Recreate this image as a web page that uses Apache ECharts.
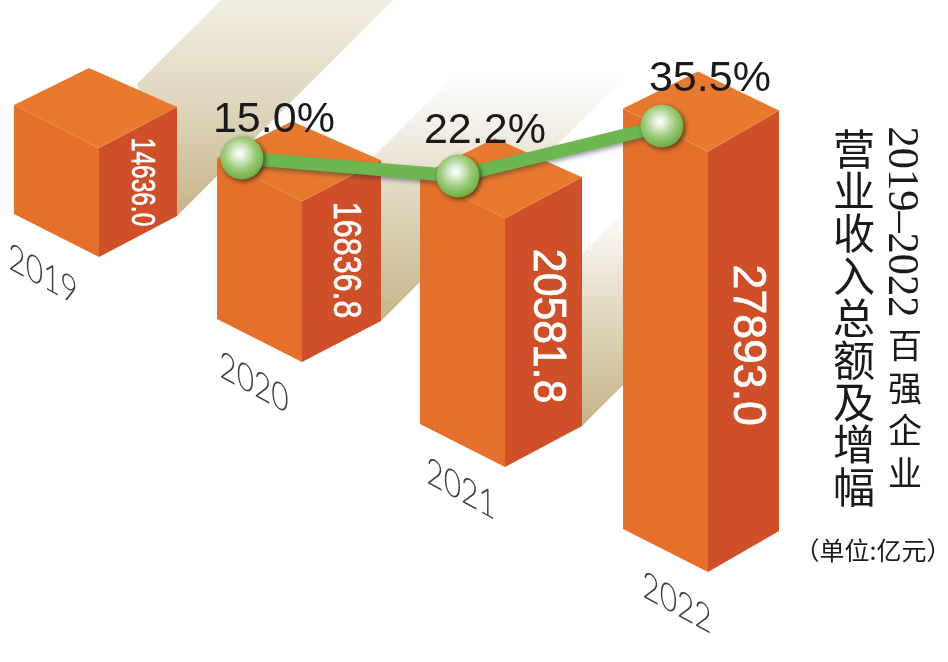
<!DOCTYPE html>
<html>
<head>
<meta charset="utf-8">
<style>html,body{margin:0;padding:0;background:#fff}#c{width:948px;height:662px}</style>
<script src="https://cdn.jsdelivr.net/npm/echarts@6/dist/echarts.min.js"></script>
</head>
<body>
<div id="c"></div>
<script>
// ---- data ----
var categories = ['2019', '2020', '2021', '2022'];
var revenue = [14636.0, 16836.8, 20581.8, 27893.0];
var growthLabels = ['15.0%', '22.2%', '35.5%'];
var linePositionX = [0.704, 1.768, 2.773];
var lineLevel = [27617, 26851, 28979];
var titleMain = '营业收入总额及增幅';
var titleYears = '2019–2022';
var titleSub = '百强企业';
var unitText = '（单位:亿元）';

// ---- drawing style ----
var AXIS_MIN = 10000, AXIS_MAX = 34000;
var FLOOR_RISE = 105;
var LEFT_RUN = 85, LEFT_SLOPE = 43, RIGHT_SLOPE = 41, APEX_DX = -10, APEX_DY = -80;
var rightRun = [78, 79, 77, 71];
var valueFont = [34, 38, 46, 46];
var valueStretch = [0.72, 0.85, 0.93, 0.97];
var valueShift = [0, -1, 4, 4];
var yearOffset = [[-56, 18], [-48, 21], [-44, 22], [-31, 31]];
var shadowLen = [230, 245, 48, 0];
var shadowFade = [230, 245, 222, 0];
var labelOffset = [[32, -38], [27, -45], [48, -47]];

function barGeom(api) {
  var i = api.value(0);
  var drop = (categories.length - 1 - i) * FLOOR_RISE;
  var top = api.coord([i, api.value(1)]);
  var base = api.coord([i, AXIS_MIN]);
  return { i: i, x: top[0], top: top[1] - drop, bottom: base[1] - drop, r: rightRun[i] };
}

function renderShadow(params, api) {
  var g = barGeom(api), L = shadowLen[g.i];
  if (!L) return { type: 'group', children: [] };
  var bx = g.x + g.r, by = g.bottom - RIGHT_SLOPE;
  var band = 172, tuck = 40;
  var pts = [[bx, by], [bx + L, by - L], [bx + L, by - L - band], [bx - tuck, by - band + tuck]];
  return {
    type: 'polygon',
    shape: { points: pts },
    style: {
      fill: new echarts.graphic.LinearGradient(0, by, 0, by - shadowFade[g.i], [
        { offset: 0, color: '#c6b387' },
        { offset: 0.45, color: '#ddd4ba' },
        { offset: 1, color: g.i === 0 ? '#f4f1e7' : '#ffffff' }
      ], true)
    }
  };
}

function renderBar(params, api) {
  var g = barGeom(api), x = g.x, t = g.top, b = g.bottom, r = g.r;
  var yl = LEFT_SLOPE, yr = RIGHT_SLOPE;
  var faceCenterX = x + r * 0.54;
  var faceCenterY = (t + b - yr) / 2 + valueShift[g.i];
  return {
    type: 'group',
    children: [
      { type: 'polygon', shape: { points: [[x - LEFT_RUN, t - yl], [x, t], [x, b], [x - LEFT_RUN, b - yl]] },
        style: { fill: '#e5702b' } },
      { type: 'polygon', shape: { points: [[x, t], [x + r, t - yr], [x + r, b - yr], [x, b]] },
        style: { fill: '#cf4f29' } },
      { type: 'polygon', shape: { points: [[x - LEFT_RUN, t - yl], [x + APEX_DX, t + APEX_DY], [x + r, t - yr], [x, t]] },
        style: { fill: '#e87a2e' } },
      { type: 'text', x: faceCenterX, y: faceCenterY, rotation: -Math.PI / 2, scaleX: valueStretch[g.i],
        style: { text: revenue[g.i].toFixed(1), fill: '#fff', stroke: '#fff', lineWidth: 0.7,
          align: 'center', verticalAlign: 'middle',
          font: valueFont[g.i] + 'px "Liberation Sans", Arial, sans-serif' } },
      { type: 'text', x: x + yearOffset[g.i][0], y: b + yearOffset[g.i][1], skewY: -0.5, scaleX: 0.88, scaleY: 1.12,
        style: { text: categories[g.i], fill: '#3c4042', align: 'center', verticalAlign: 'middle',
          font: '300 34px Lato, sans-serif' } }
    ]
  };
}

var barData = categories.map(function (c, i) { return [i, revenue[i]]; });
var lineData = growthLabels.map(function (t, i) {
  return {
    value: [linePositionX[i], lineLevel[i]],
    label: { offset: labelOffset[i], formatter: t }
  };
});

var graphics = [];
titleMain.split('').forEach(function (ch, i) {
  graphics.push({ type: 'text', x: 854, y: 149 + i * 42.2,
    style: { text: ch, fill: '#1a1a1a', align: 'center', verticalAlign: 'middle',
      font: '42px "Noto Sans CJK SC", sans-serif' } });
});
graphics.push({ type: 'text', x: 901, y: 222, rotation: -Math.PI / 2, scaleX: 0.965,
  style: { text: titleYears, fill: '#1a1a1a', align: 'center', verticalAlign: 'middle',
    font: '44px "Liberation Serif", serif' } });
titleSub.split('').forEach(function (ch, i) {
  graphics.push({ type: 'text', x: 905, y: 345 + i * 42.7,
    style: { text: ch, fill: '#1a1a1a', align: 'center', verticalAlign: 'middle',
      font: '34px "Noto Sans CJK SC", sans-serif' } });
});
graphics.push({ type: 'text', x: 873, y: 550,
  style: { text: unitText, fill: '#1a1a1a', align: 'center', verticalAlign: 'middle',
    font: '25px "Noto Sans CJK SC", sans-serif' } });

var chart = echarts.init(document.getElementById('c'), null, { renderer: 'canvas' });
chart.setOption({
  animation: false,
  backgroundColor: '#ffffff',
  grid: { left: 99, top: 8, width: 609, height: 564 },
  xAxis: [
    { type: 'category', data: categories, boundaryGap: false, show: false },
    { type: 'value', min: 0, max: 3, show: false }
  ],
  yAxis: { type: 'value', min: AXIS_MIN, max: AXIS_MAX, show: false },
  graphic: { elements: graphics },
  series: [
    { type: 'custom', name: 'shadow', renderItem: renderShadow, data: barData, z: 1, silent: true,
      clip: false, encode: { x: 0, y: 1 } },
    { type: 'custom', name: '营业收入', renderItem: renderBar, data: barData, z: 2, silent: true,
      clip: false, encode: { x: 0, y: 1 } },
    { type: 'line', name: '增幅', xAxisIndex: 1, yAxisIndex: 0, data: lineData, z: 5, silent: true,
      clip: false,
      symbol: 'circle', symbolSize: 43, showSymbol: true, showAllSymbol: true,
      lineStyle: { color: '#6cb74f', width: 13, shadowColor: 'rgba(40,50,60,0.45)', shadowBlur: 4, shadowOffsetY: 3 },
      itemStyle: {
        color: new echarts.graphic.RadialGradient(0.45, 0.4, 0.6, [
          { offset: 0, color: '#ffffff' },
          { offset: 0.25, color: '#dcebd0' },
          { offset: 0.6, color: '#9ccb78' },
          { offset: 1, color: '#6fae45' }
        ]),
        shadowColor: 'rgba(20,20,10,0.65)', shadowBlur: 5, shadowOffsetX: 2, shadowOffsetY: 2
      },
      label: { show: true, position: 'inside', align: 'center', verticalAlign: 'middle', color: '#1a1a1a',
        fontFamily: '"Liberation Sans", Arial, sans-serif', fontSize: 43 }
    }
  ]
});
</script>
</body>
</html>
